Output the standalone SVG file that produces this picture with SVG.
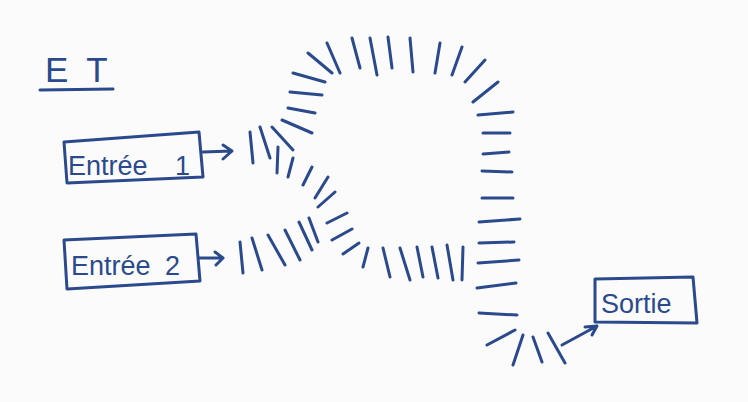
<svg xmlns="http://www.w3.org/2000/svg" width="748" height="402" viewBox="0 0 748 402">
<style>
.ink{stroke:#2b4a8c;stroke-width:3;stroke-linecap:round;stroke-linejoin:round;fill:none}
.box{stroke:#2b4a8c;stroke-width:3;stroke-linejoin:round;fill:none}
.lbl{font-family:"Liberation Sans",Arial,sans-serif;fill:#2b4a8c;font-size:27px}
</style>
<rect width="748" height="402" fill="#fbfbfc"/>
<g id="title">
<text class="lbl" x="45" y="82" style="font-size:35px" letter-spacing="18">ET</text>
<line class="ink" x1="40" y1="90" x2="113" y2="89"/>
</g>
<g id="entree1">
<polygon class="box" points="64,142 199,132 203,177 67,183"/>
<text class="lbl" x="68" y="175">Entrée <tspan x="175">1</tspan></text>
</g>
<g id="entree2">
<polygon class="box" points="64,240 196,234 200,281 67,289"/>
<text class="lbl" x="71" y="275">Entrée <tspan x="165">2</tspan></text>
</g>
<g id="sortie">
<polygon class="box" points="595,279 693,277 697,323 595,322"/>
<text class="lbl" x="601" y="313" style="font-size:27px">Sortie</text>
</g>
<g id="connectors">
<path class="ink" d="M203,152 L232,151 M223,145 L232,151 L223,159"/>
<path class="ink" d="M199,258 L223,258 M215,252 L223,258 L216,265"/>
<path class="ink" d="M562,345 L597,326 M585,327 L597,326 L592,335"/>
<g id="wave">
<path class="ink" d="M250,132 L253,163 M260,127 L270,158 M272,127 L293,150 M282,120 L312,133 M288,108 L315,113 M290,92 L322,95 M293,73 L325,82 M308,53 L332,73 M327,43 L340,73 M352,38 L360,68 M370,38 L377,75 M388,37 L392,68 M410,38 L413,72 M440,43 L435,73 M462,47 L452,75 M485,60 L465,82 M498,82 L473,102"/>
<path class="ink" d="M478,115 L513,112 M483,133 L510,133 M483,154 L509,152 M482,171 L512,172 M482,198 L513,198 M479,222 L520,219 M479,243 L514,242 M478,263 L519,260 M477,288 L516,283 M479,313 L517,315"/>
<path class="ink" d="M487,345 L515,330 M523,335 L513,365 M533,337 L542,362 M548,333 L565,363"/>
<path class="ink" d="M278,147 L277,173 M293,158 L288,177 M312,167 L303,185 M328,177 L315,198 M335,192 L318,207 M347,213 L327,223 M352,229 L332,240 M359,243 L343,254 M368,248 L363,267"/>
<path class="ink" d="M383,248 L390,277 M400,248 L410,280 M417,247 L423,277 M432,247 L438,278 M447,245 L453,280 M463,247 L462,280"/>
<path class="ink" d="M240,242 L243,273 M252,238 L262,270 M268,235 L285,265 M285,230 L300,260 M299,222 L312,250 M309,218 L318,242"/>
</g>
</g>
</svg>
